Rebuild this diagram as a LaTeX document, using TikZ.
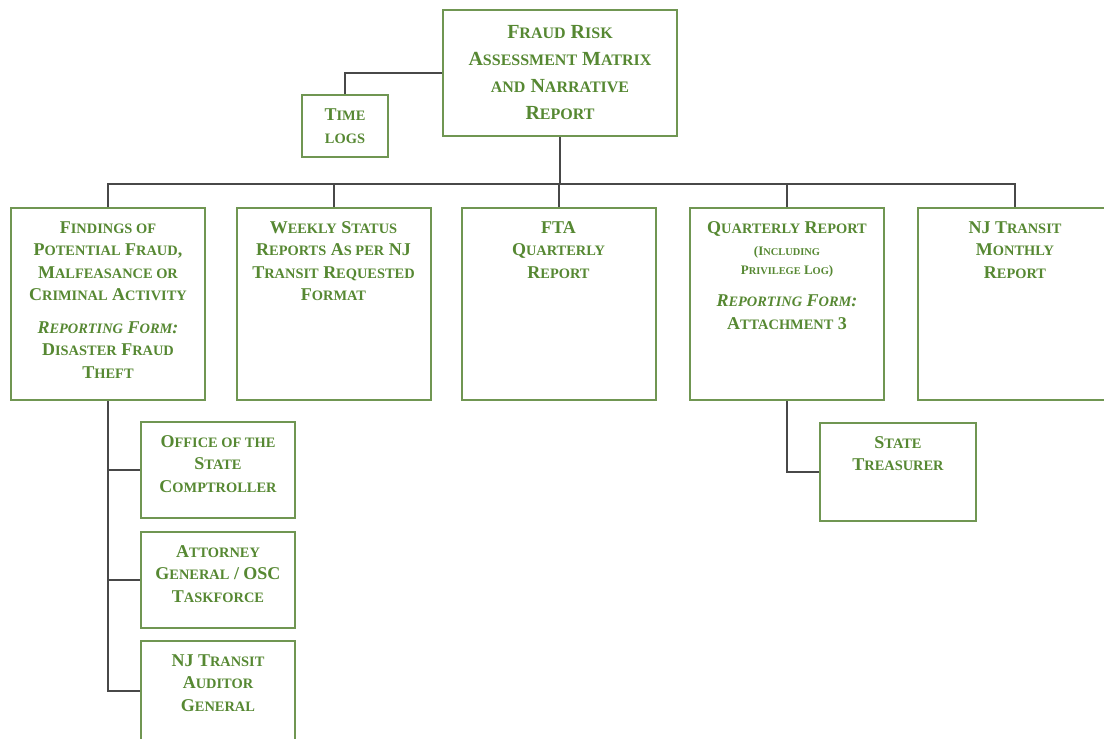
\documentclass[tikz,border=0pt]{standalone}
\usepackage{fontspec}
\setmainfont{Liberation Serif}
\usetikzlibrary{positioning}

\definecolor{txtgreen}{RGB}{86,136,50}
\definecolor{boxgreen}{RGB}{112,150,82}
\definecolor{linegray}{RGB}{72,72,72}

% small caps faked from upper case letters
\newcommand{\scl}[1]{{\fontsize{7.2}{11.25}\selectfont\MakeUppercase{#1}}}
\newcommand{\sclb}[1]{{\fontsize{8}{13.5}\selectfont\MakeUppercase{#1}}}
\newcommand{\scls}[1]{{\fontsize{5.2}{9}\selectfont\MakeUppercase{#1}}}
\newcommand{\tinyline}{\fontsize{6.5}{9}\selectfont}

\tikzset{
  box/.style={draw=boxgreen, line width=1pt, fill=white, inner sep=0pt},
  txt/.style={text=txtgreen, font=\bfseries\fontsize{9}{11.25}\selectfont, align=center, inner sep=0pt},
  link/.style={draw=linegray, line width=1pt},
}

\begin{document}
\begin{tikzpicture}[x=0.5pt, y=-0.5pt]

  \clip (0,0) rectangle (1104,739);
  \fill[white] (0,0) rectangle (1104,739);

  % top
  \node[box, txt, font=\bfseries\fontsize{10}{13.5}\selectfont, minimum width=117pt, minimum height=63pt] (risk) at (560,73)
    {F\sclb{raud} R\sclb{isk}\\ A\sclb{ssessment} M\sclb{atrix}\\ \sclb{and} N\sclb{arrative}\\ R\sclb{eport}};
  \node[box, txt, minimum width=43pt, minimum height=31pt] (time) at (345,126) {T\scl{ime}\\ \scl{logs}};

  % reports row
  \node[box, minimum width=97pt, minimum height=96pt] (findings) at (108,304) {};
  \node[box, minimum width=97pt, minimum height=96pt] (weekly) at (333.5,304) {};
  \node[box, minimum width=97pt, minimum height=96pt] (fta) at (558.5,304) {};
  \node[box, minimum width=97pt, minimum height=96pt] (quarterly) at (787,304) {};
  \node[box, minimum width=97pt, minimum height=96pt] (monthly) at (1015,304) {};

  \node[txt, below=7pt of findings.north] (findingstext)
    {F\scl{indings of}\\ P\scl{otential} F\scl{raud},\\ M\scl{alfeasance or}\\ C\scl{riminal} A\scl{ctivity}\\[5pt]
     \textit{R\scl{eporting} F\scl{orm}:}\\ D\scl{isaster} F\scl{raud}\\ T\scl{heft}};
  \node[txt, below=7pt of weekly.north] (weeklytext)
    {W\scl{eekly} S\scl{tatus}\\ R\scl{eports} A\scl{s per} NJ\\ T\scl{ransit} R\scl{equested}\\ F\scl{ormat}};
  \node[txt, below=7pt of fta.north] (ftatext) {FTA\\ Q\scl{uarterly}\\ R\scl{eport}};
  \node[txt, below=7pt of quarterly.north] (quarterlytext)
    {Q\scl{uarterly} R\scl{eport}\\
     {\tinyline (I\scls{ncluding}}\\[-2pt]
     {\tinyline P\scls{rivilege} L\scls{og})}\\[5pt]
     \textit{R\scl{eporting} F\scl{orm}:}\\ A\scl{ttachment} 3};
  \node[txt, below=7pt of monthly.north] (monthlytext) {NJ T\scl{ransit}\\ M\scl{onthly}\\ R\scl{eport}};

  % below findings and quarterly
  \node[box, minimum width=77pt, minimum height=48pt] (office) at (218,470) {};
  \node[box, minimum width=77pt, minimum height=48pt] (attorney) at (218,580) {};
  \node[box, minimum width=77pt, minimum height=50pt] (auditor) at (218,691) {};
  \node[box, minimum width=78pt, minimum height=49pt] (treasurer) at (898,472) {};

  \node[txt, below=7pt of office.north] (officetext) {O\scl{ffice of the}\\ S\scl{tate}\\ C\scl{omptroller}};
  \node[txt, below=7pt of attorney.north] (attorneytext) {A\scl{ttorney}\\ G\scl{eneral} / OSC\\ T\scl{askforce}};
  \node[txt, below=7pt of auditor.north] (auditortext) {NJ T\scl{ransit}\\ A\scl{uditor}\\ G\scl{eneral}};
  \node[txt, below=7pt of treasurer.north] (treasurertext) {S\scl{tate}\\ T\scl{reasurer}};

  % connectors
  \coordinate (busL) at (108,184);
  \coordinate (busR) at (1015,184);
  \draw[link] (risk.west) -| (time.north);
  \draw[link] (risk.south) -- (risk.south |- busL);
  \draw[link] (findings.north) -- (busL) -- (busR) -- (monthly.north);
  \draw[link] (weekly.north) -- (weekly.north |- busL);
  \draw[link] (fta.north) -- (fta.north |- busL);
  \draw[link] (quarterly.north) -- (quarterly.north |- busL);
  \draw[link] (findings.south) -- (findings.south |- auditor.west) -- (auditor.west);
  \draw[link] (findings.south |- office.west) -- (office.west);
  \draw[link] (findings.south |- attorney.west) -- (attorney.west);
  \draw[link] (quarterly.south) |- (treasurer.west);

\end{tikzpicture}
\end{document}
